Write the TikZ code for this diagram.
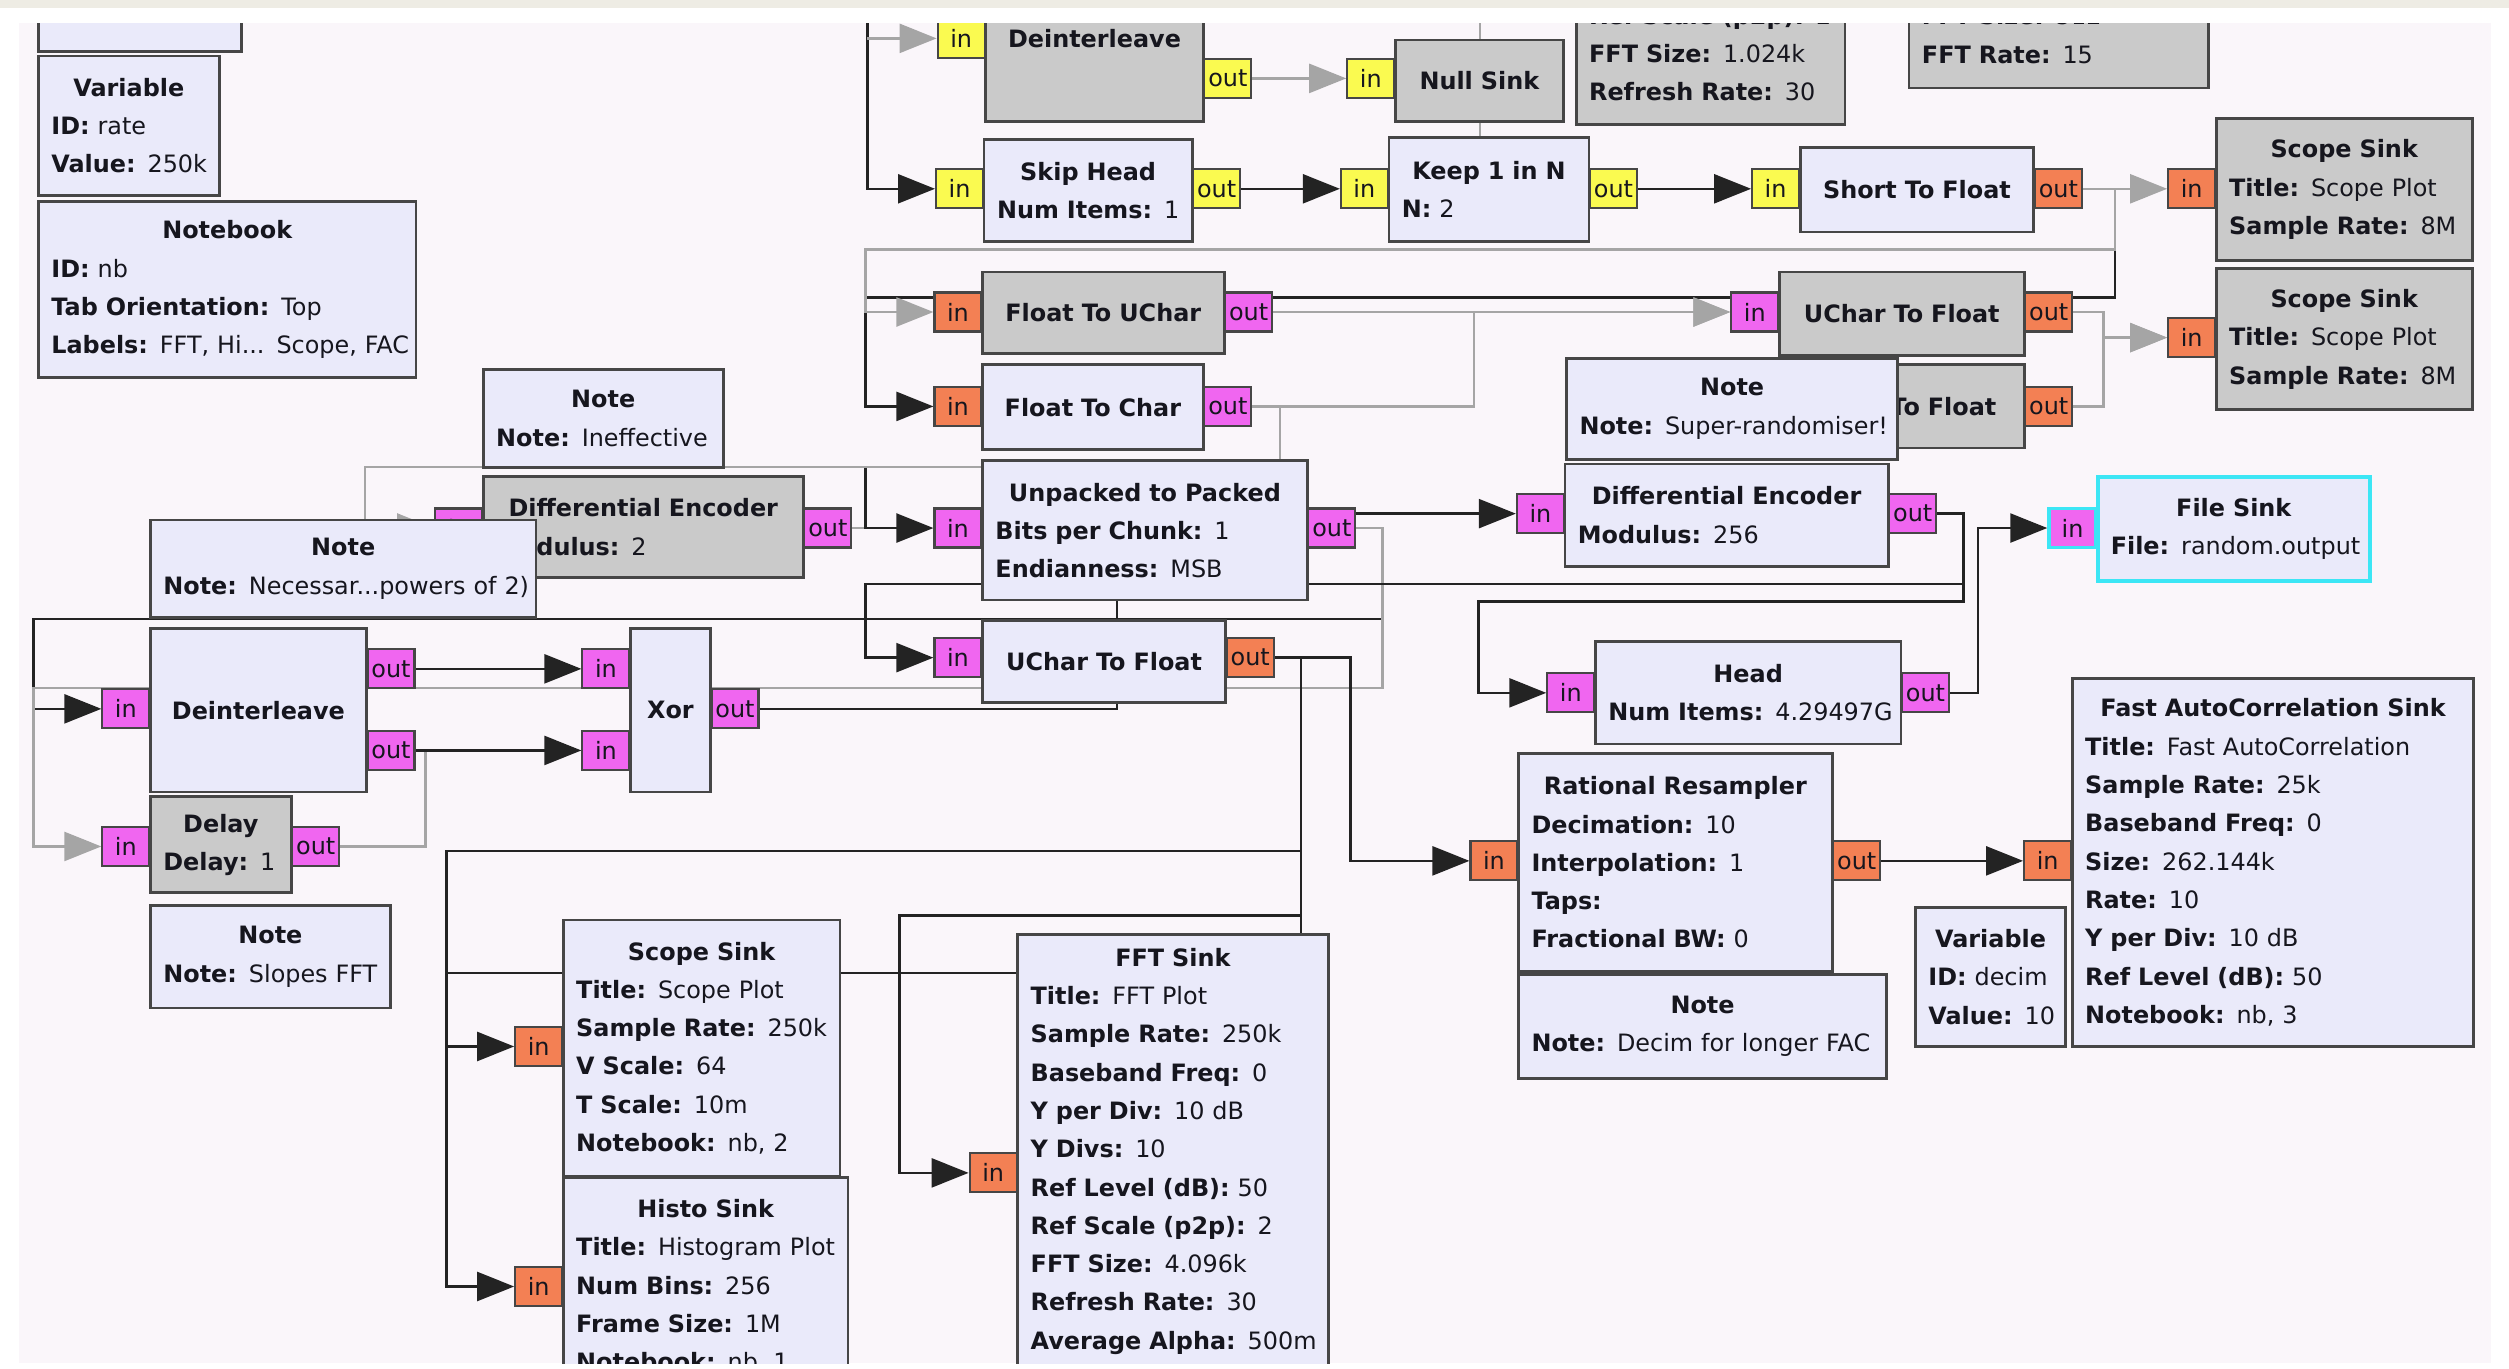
\documentclass[tikz,border=0pt]{standalone}
\usepackage{fontspec}
\setmainfont{DejaVu Sans}
\usetikzlibrary{arrows.meta,calc}
\setlength{\parindent}{0pt}
\definecolor{CanvasBg}{RGB}{250,246,250}
\definecolor{TopBand}{RGB}{238,236,228}
\definecolor{BlockFill}{RGB}{234,234,250}
\definecolor{BlockOff}{RGB}{202,202,202}
\definecolor{BlockLine}{RGB}{70,70,70}
\definecolor{PortFloat}{RGB}{243,128,84}
\definecolor{PortByte}{RGB}{240,102,240}
\definecolor{PortShort}{RGB}{250,250,80}
\definecolor{WireOn}{RGB}{35,35,35}
\definecolor{WireOff}{RGB}{165,165,165}
\definecolor{SelCyan}{RGB}{60,230,245}
\definecolor{InkDark}{RGB}{22,22,30}
\pgfdeclarelayer{bg}
\pgfdeclarelayer{wires}
\pgfsetlayers{bg,wires,main}

\newcommand{\ttl}[1]{{\centering\mbox{\bfseries #1}\par}}
\newcommand{\prm}[2]{\mbox{\textbf{#1:} #2}}
% block from (x1,y1) to (x2,y2) in screen pixels
\newcommand{\grcblk}[7][]{%
  \pgfmathsetmacro{\bkw}{(#5-#3)*0.016-0.26}%
  \pgfmathsetmacro{\bkh}{(#6-#4)*0.016}%
  \node[blk,#1,text width=\bkw cm,minimum height=\bkh cm] (#2) at ({(#3+#5)/2},{(#4+#6)/2}) {#7};%
}

\begin{document}
\begin{tikzpicture}[x=0.016cm,y=-0.016cm,font=\fontsize{6.8}{10.9}\selectfont,
  blk/.style={draw=BlockLine,line width=0.8pt,fill=BlockFill,align=left,inner xsep=0.13cm,inner ysep=0pt,text=InkDark},
  blkoff/.style={fill=BlockOff},
  blksel/.style={draw=SelCyan,line width=1.3pt},
  port/.style={draw=BlockLine,line width=0.6pt,minimum width=0.47cm,minimum height=0.39cm,inner sep=0pt,text=InkDark},
  inport/.style={port,anchor=east},
  outport/.style={port,anchor=west},
  fport/.style={fill=PortFloat},
  bport/.style={fill=PortByte},
  sport/.style={fill=PortShort},
  wireon/.style={draw=WireOn,line width=0.7pt},
  wireoff/.style={draw=WireOff,line width=0.7pt},
  warrow/.style={wireon,-{Triangle[length=0.37cm,width=0.29cm]}},
  garrow/.style={wireoff,-{Triangle[length=0.37cm,width=0.29cm]}}]
  \useasboundingbox (0,0) rectangle (1568,855);

  % canvas
  \begin{pgfonlayer}{bg}
    \fill[white] (0,0) rectangle (1568,855);
    \fill[TopBand] (0,0) rectangle (1568,5);
    \fill[CanvasBg] (12,14.5) rectangle (1557,852);
  \end{pgfonlayer}

  \begin{scope}
  \clip (12,14.5) rectangle (1557,852);

  % upper row
  \grcblk{vtop}{24}{-20}{151}{32}{}
  \grcblk{vrate}{24}{35}{137}{122}{\ttl{Variable}\prm{ID}{rate}\\\prm{Value}{250k}}
  \grcblk{nbook}{24}{126}{260}{236}{\ttl{Notebook}\prm{ID}{nb}\\\prm{Tab Orientation}{Top}\\\prm{Labels}{FFT, Hi... Scope, FAC}}

  \grcblk[blkoff]{dtop}{616}{-28}{752}{76}{\ttl{Deinterleave}}
  \node[inport,sport] (dtop-in) at (616,24) {in};
  \node[outport,sport] (dtop-out) at (752,49) {out};
  \grcblk[blkoff]{nsink}{872}{25}{977}{76}{\ttl{Null Sink}}
  \node[inport,sport] (nsink-in) at (872,49) {in};
  \grcblk[blkoff]{fftb}{985}{-11}{1153}{78}{\prm{Ref Scale (p2p)}{2}\\\prm{FFT Size}{1.024k}\\\prm{Refresh Rate}{30}}
  \grcblk[blkoff]{fftr}{1193}{-11}{1380}{55}{\prm{FFT Size}{512}\\\prm{FFT Rate}{15}}

  \grcblk{skiph}{615}{87}{745}{151}{\ttl{Skip Head}\prm{Num Items}{1}}
  \node[inport,sport] (skiph-in) at (615,118) {in};
  \node[outport,sport] (skiph-out) at (745,118) {out};
  \grcblk{keepn}{868}{86}{993}{151}{\ttl{Keep 1 in N}\prm{N}{2}}
  \node[inport,sport] (keepn-in) at (868,118) {in};
  \node[outport,sport] (keepn-out) at (993,118) {out};
  \grcblk{s2f}{1125}{92}{1271}{145}{\ttl{Short To Float}}
  \node[inport,sport] (s2f-in) at (1125,118) {in};
  \node[outport,fport] (s2f-out) at (1271,118) {out};
  \grcblk[blkoff]{scope1}{1385}{74}{1545}{163}{\ttl{Scope Sink}\prm{Title}{Scope Plot}\\\prm{Sample Rate}{8M}}
  \node[inport,fport] (scope1-in) at (1385,118) {in};
  \grcblk[blkoff]{scope2}{1385}{168}{1545}{256}{\ttl{Scope Sink}\prm{Title}{Scope Plot}\\\prm{Sample Rate}{8M}}
  \node[inport,fport] (scope2-in) at (1385,211) {in};

  \grcblk[blkoff]{f2uc}{614}{170}{765}{221}{\ttl{Float To UChar}}
  \node[inport,fport] (f2uc-in) at (614,195) {in};
  \node[outport,bport] (f2uc-out) at (765,195) {out};
  \grcblk{f2c}{614}{228}{752}{281}{\ttl{Float To Char}}
  \node[inport,fport] (f2c-in) at (614,254) {in};
  \node[outport,bport] (f2c-out) at (752,254) {out};
  \grcblk[blkoff]{uc2ft}{1112}{170}{1265}{222}{\ttl{UChar To Float}}
  \node[inport,bport] (uc2ft-in) at (1112,195) {in};
  \node[outport,fport] (uc2ft-out) at (1265,195) {out};
  \grcblk[blkoff]{c2f}{1120}{228}{1265}{280}{\ttl{Char To Float}}
  \node[inport,bport] (c2f-in) at (1120,254) {in};
  \node[outport,fport] (c2f-out) at (1265,254) {out};

  % middle row
  \grcblk[blkoff]{diffl}{302}{298}{502}{361}{\ttl{Differential Encoder}\prm{Modulus}{2}}
  \node[inport,bport] (diffl-in) at (302,330) {in};
  \node[outport,bport] (diffl-out) at (502,330) {out};
  \grcblk{u2p}{614}{288}{817}{375}{\ttl{Unpacked to Packed}\prm{Bits per Chunk}{1}\\\prm{Endianness}{MSB}}
  \node[inport,bport] (u2p-in) at (614,330) {in};
  \node[outport,bport] (u2p-out) at (817,330) {out};
  \grcblk{uc2f}{614}{388}{766}{439}{\ttl{UChar To Float}}
  \node[inport,bport] (uc2f-in) at (614,411) {in};
  \node[outport,fport] (uc2f-out) at (766,411) {out};
  \grcblk{diffr}{978}{290}{1180}{354}{\ttl{Differential Encoder}\prm{Modulus}{256}}
  \node[inport,bport] (diffr-in) at (978,321) {in};
  \node[outport,bport] (diffr-out) at (1180,321) {out};
  \grcblk[blksel]{fsink}{1311}{298}{1481}{363}{\ttl{File Sink}\prm{File}{random.output}}
  \node[inport,bport,draw=SelCyan,line width=1pt] (fsink-in) at (1311,330) {in};
  \grcblk{head}{997}{401}{1188}{465}{\ttl{Head}\prm{Num Items}{4.29497G}}
  \node[inport,bport] (head-in) at (997,433) {in};
  \node[outport,bport] (head-out) at (1188,433) {out};

  \grcblk{deint}{94}{393}{229}{495}{\ttl{Deinterleave}}
  \node[inport,bport] (deint-in) at (94,443) {in};
  \node[outport,bport] (deint-out1) at (229,418) {out};
  \node[outport,bport] (deint-out2) at (229,469) {out};
  \grcblk{xor}{394}{393}{444}{495}{\ttl{Xor}}
  \node[inport,bport] (xor-in1) at (394,418) {in};
  \node[inport,bport] (xor-in2) at (394,469) {in};
  \node[outport,bport] (xor-out) at (444,443) {out};
  \grcblk[blkoff]{delay}{94}{498}{182}{558}{\ttl{Delay}\prm{Delay}{1}}
  \node[inport,bport] (delay-in) at (94,529) {in};
  \node[outport,bport] (delay-out) at (182,529) {out};

  % lower row
  \grcblk{rr}{949}{471}{1145}{607}{\ttl{Rational Resampler}\prm{Decimation}{10}\\\prm{Interpolation}{1}\\\prm{Taps}{}\\\prm{Fractional BW}{0}}
  \node[inport,fport] (rr-in) at (949,538) {in};
  \node[outport,fport] (rr-out) at (1145,538) {out};
  \grcblk{vdecim}{1197}{567}{1291}{654}{\ttl{Variable}\prm{ID}{decim}\\\prm{Value}{10}}
  \grcblk{fac}{1295}{424}{1546}{654}{\ttl{Fast AutoCorrelation Sink}\prm{Title}{Fast AutoCorrelation}\\\prm{Sample Rate}{25k}\\\prm{Baseband Freq}{0}\\\prm{Size}{262.144k}\\\prm{Rate}{10}\\\prm{Y per Div}{10 dB}\\\prm{Ref Level (dB)}{50}\\\prm{Notebook}{nb, 3}}
  \node[inport,fport] (fac-in) at (1295,538) {in};
  \grcblk{ssink}{352}{575}{525}{735}{\ttl{Scope Sink}\prm{Title}{Scope Plot}\\\prm{Sample Rate}{250k}\\\prm{V Scale}{64}\\\prm{T Scale}{10m}\\\prm{Notebook}{nb, 2}}
  \node[inport,fport] (ssink-in) at (352,654) {in};
  \grcblk{hsink}{352}{736}{530}{872}{\ttl{Histo Sink}\prm{Title}{Histogram Plot}\\\prm{Num Bins}{256}\\\prm{Frame Size}{1M}\\\prm{Notebook}{nb, 1}}
  \node[inport,fport] (hsink-in) at (352,804) {in};
  \grcblk{fftsink}{636}{584}{830}{855}{\ttl{FFT Sink}\prm{Title}{FFT Plot}\\\prm{Sample Rate}{250k}\\\prm{Baseband Freq}{0}\\\prm{Y per Div}{10 dB}\\\prm{Y Divs}{10}\\\prm{Ref Level (dB)}{50}\\\prm{Ref Scale (p2p)}{2}\\\prm{FFT Size}{4.096k}\\\prm{Refresh Rate}{30}\\\prm{Average Alpha}{500m}}
  \node[inport,fport] (fftsink-in) at (636,733) {in};

  % notes
  \grcblk{nineff}{302}{231}{452}{292}{\ttl{Note}\prm{Note}{Ineffective}}
  \grcblk{nnec}{94}{325}{335}{386}{\ttl{Note}\prm{Note}{Necessar...powers of 2)}}
  \grcblk{nsuper}{979}{224}{1186}{287}{\ttl{Note}\prm{Note}{Super-randomiser!}}
  \grcblk{nslopes}{94}{566}{244}{630}{\ttl{Note}\prm{Note}{Slopes FFT}}
  \grcblk{ndecim}{949}{609}{1179}{674}{\ttl{Note}\prm{Note}{Decim for longer FAC}}
  \end{scope}

  % connections
  \begin{pgfonlayer}{wires}
  \begin{scope}
  \clip (12,14.5) rectangle (1557,852);
  \coordinate (topsrc) at (542,0);
  \coordinate (passtop) at (925,0);
  \coordinate (passbot) at (925,100);
  \coordinate (dmerge) at (266,469);
  \coordinate (lowsink) at (813,870);

  \draw[wireoff] (passtop) -- (passbot);
  \draw[warrow] (topsrc) |- (skiph-in.west);
  \draw[garrow] (topsrc |- dtop-in.west) -- (dtop-in.west);
  \draw[garrow] (dtop-out.east) -- (nsink-in.west);
  \draw[warrow] (skiph-out.east) -- (keepn-in.west);
  \draw[warrow] (keepn-out.east) -- (s2f-in.west);

  \draw[warrow] (s2f-out.east) -- ++(20,0) |- (541,186) |- (f2c-in.west);
  \draw[garrow] (s2f-out.east) -- (scope1-in.west);
  \draw[garrow] (s2f-out.east) -- ++(20,0) |- (541,156) |- (f2uc-in.west);
  \draw[garrow] (f2uc-out.east) -- (uc2ft-in.west);
  \draw[garrow] (f2c-out.east) -- (921,254) |- (uc2ft-in.west);
  \draw[garrow] (uc2ft-out.east) -- ++(19,0) |- (scope2-in.west);
  \draw[garrow] (c2f-out.east) -- ++(19,0) |- (scope2-in.west);

  \draw[wireoff] (diffl-out.east) -- (541,330);
  \draw[warrow] (xor-out.east) -| (698,292) -| (541,330) -- (u2p-in.west);
  \draw[garrow] (f2c-out.east) -| (800,292) -| (228,330) -- (diffl-in.west);
  \draw[warrow] (u2p-out.east |- diffr-in.west) -- (diffr-in.west);
  \draw[warrow] (u2p-out.east) -| (864,387) -| (21,443) -- (deint-in.west);
  \draw[garrow] (u2p-out.east) -| (864,430) -| (21,529) -- (delay-in.west);
  \draw[warrow] (diffr-out.east) -| (1227,365) -| (541,411) -- (uc2f-in.west);
  \draw[warrow] (diffr-out.east) -| (1227,376) -| (924,433) -- (head-in.west);
  \draw[warrow] (head-out.east) -| (1236,330) -- (fsink-in.west);

  \draw[wireoff] (delay-out.east) -| (dmerge);
  \draw[warrow] (deint-out1.east) -- (xor-in1.west);
  \draw[warrow] (deint-out2.east) -- (xor-in2.west);

  \draw[warrow] (uc2f-out.east) -| (844,538) -- (rr-in.west);
  \draw[warrow] (rr-out.east) -- (fac-in.west);
  \draw[wireon] (uc2f-out.east) -| (lowsink);
  \draw[warrow] (uc2f-out.east) -| (813,532) -| (279,804) -- (hsink-in.west);
  \draw[warrow] (uc2f-out.east) -| (813,572) -| (562,733) -- (fftsink-in.west);
  \draw[warrow] (uc2f-out.east) -| (813,608) -| (279,654) -- (ssink-in.west);
  \end{scope}
  \end{pgfonlayer}
\end{tikzpicture}
\end{document}
